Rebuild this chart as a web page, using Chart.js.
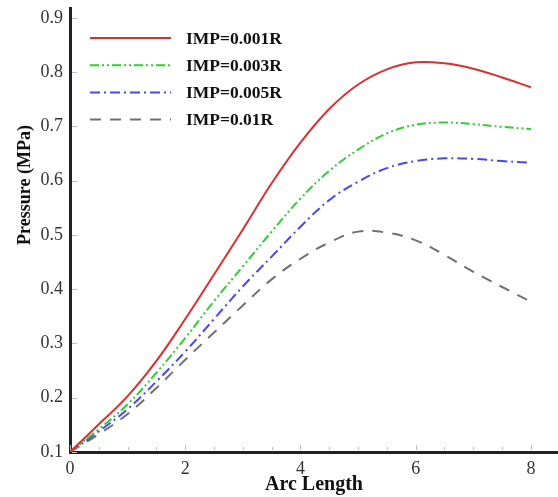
<!DOCTYPE html>
<html>
<head>
<meta charset="utf-8">
<script src="https://cdn.jsdelivr.net/npm/chart.js@4.4.1/dist/chart.umd.min.js"></script>
<style>
  html, body { margin: 0; padding: 0; background: #fff; }
  #wrap { width: 558px; height: 497px; position: relative; }
</style>
</head>
<body>
<div id="wrap"><canvas id="myChart"></canvas></div>
<script>
// arc length samples
var arcLength = [0, 0.5, 1, 1.5, 2, 2.5, 3, 3.5, 4, 4.5, 5, 5.5, 6, 6.5, 7, 7.5, 8];

// pressure (MPa) for each IMP value
var imp001 = [0.1, 0.151, 0.203, 0.268, 0.345, 0.427, 0.51, 0.595, 0.67, 0.732, 0.777, 0.805, 0.818, 0.816, 0.806, 0.79, 0.772];
var imp003 = [0.1, 0.142, 0.188, 0.246, 0.31, 0.378, 0.442, 0.506, 0.567, 0.618, 0.657, 0.687, 0.703, 0.707, 0.704, 0.699, 0.695];
var imp005 = [0.1, 0.138, 0.179, 0.23, 0.285, 0.345, 0.405, 0.46, 0.515, 0.564, 0.598, 0.623, 0.636, 0.641, 0.64, 0.636, 0.633];
var imp01  = [0.1, 0.133, 0.17, 0.218, 0.27, 0.32, 0.37, 0.418, 0.456, 0.486, 0.506, 0.504, 0.49, 0.463, 0.432, 0.404, 0.377];

var seriesNames = ["IMP=0.001R", "IMP=0.003R", "IMP=0.005R", "IMP=0.01R"];
var xTicks = [0, 2, 4, 6, 8];
var yTicks = [0.1, 0.2, 0.3, 0.4, 0.5, 0.6, 0.7, 0.8, 0.9];

var serif = '"Liberation Serif", "Times New Roman", serif';

function pts(ys) {
    return arcLength.map(function (x, i) { return { x: x, y: ys[i] }; });
}

// small inward tick marks like the original figure
var innerTicks = {
    id: 'innerTicks',
    afterDatasetsDraw: function (chart) {
        var ctx = chart.ctx, xs = chart.scales.x, ys = chart.scales.y;
        ctx.save();
        ctx.strokeStyle = '#bbb';
        ctx.lineWidth = 1;
        ctx.beginPath();
        for (var v = 0; v <= xs.max; v += 0.5) {
            var px = Math.round(xs.getPixelForValue(v)) + 0.5;
            ctx.moveTo(px, ys.bottom - 2);
            ctx.lineTo(px, ys.bottom - (v % 2 === 0 ? 7 : 5));
        }
        yTicks.forEach(function (t) {
            var py = Math.round(ys.getPixelForValue(t)) + 0.5;
            ctx.moveTo(xs.left + 2, py);
            ctx.lineTo(xs.left + 7, py);
        });
        ctx.stroke();
        ctx.restore();
    }
};

// legend drawn inside the plot area, plus the y title (sits above centre in the original)
var insideLegend = {
    id: 'insideLegend',
    afterDraw: function (chart) {
        var ctx = chart.ctx;
        ctx.save();
        ctx.font = 'bold 17.5px ' + serif;
        ctx.textBaseline = 'middle';
        ctx.fillStyle = '#111';
        chart.data.datasets.forEach(function (ds, i) {
            var y = 38 + i * 27.2;
            ctx.strokeStyle = ds.borderColor;
            ctx.lineWidth = ds.borderWidth;
            ctx.setLineDash(ds.borderDash || []);
            ctx.beginPath();
            ctx.moveTo(90, y);
            ctx.lineTo(171, y);
            ctx.stroke();
            ctx.fillText(ds.label, 186, y + 1);
        });

        ctx.translate(25, 185);
        ctx.rotate(-Math.PI / 2);
        ctx.textAlign = 'center';
        ctx.font = 'bold 18px ' + serif;
        ctx.fillText('Pressure (MPa)', 0, 0);
        ctx.restore();
    }
};

var ctx = document.getElementById('myChart').getContext('2d');
var myChart = new Chart(ctx, {
    type: 'line',
    data: {
        datasets: [
            { label: seriesNames[0], data: pts(imp001), borderColor: '#d93030', borderWidth: 2, borderDash: [] },
            { label: seriesNames[1], data: pts(imp003), borderColor: '#33cc33', borderWidth: 2, borderDash: [9, 3, 2, 3, 2, 3] },
            { label: seriesNames[2], data: pts(imp005), borderColor: '#4848ee', borderWidth: 2, borderDash: [10, 4, 2, 4] },
            { label: seriesNames[3], data: pts(imp01), borderColor: '#707070', borderWidth: 2, borderDash: [11, 9] }
        ]
    },
    options: {
        responsive: true,
        maintainAspectRatio: false,
        animation: false,
        layout: { padding: { top: 8, right: 0, left: 0, bottom: 0 } },
        elements: {
            point: { radius: 0 },
            line: { tension: 0.4, fill: false }
        },
        plugins: {
            legend: { display: false },
            tooltip: { enabled: false }
        },
        scales: {
            x: {
                type: 'linear',
                min: 0,
                max: 8.47,
                afterBuildTicks: function (s) { s.ticks = xTicks.map(function (v) { return { value: v }; }); },
                afterFit: function (s) { s.height = 45; s.paddingLeft = 0; s.paddingRight = 0; },
                grid: { display: false, drawTicks: false },
                border: { display: true, color: '#222', width: 3 },
                ticks: {
                    padding: 6,
                    color: '#333',
                    font: { family: serif, size: 18 },
                    maxRotation: 0,
                    callback: function (v) { return String(v); }
                },
                title: {
                    display: true,
                    text: 'Arc Length',
                    color: '#111',
                    padding: { top: 3, bottom: 0 },
                    font: { family: serif, size: 20, weight: 'bold' }
                }
            },
            y: {
                type: 'linear',
                min: 0.1,
                max: 0.918,
                afterBuildTicks: function (s) { s.ticks = yTicks.map(function (v) { return { value: v }; }); },
                afterFit: function (s) { s.width = 70; s.paddingTop = 0; s.paddingBottom = 0; },
                grid: { display: false, drawTicks: false },
                border: { display: true, color: '#222', width: 3 },
                ticks: {
                    padding: 7,
                    color: '#333',
                    font: { family: serif, size: 18 },
                    callback: function (v) { return Number(v).toFixed(1); }
                },
                title: { display: false }
            }
        }
    },
    plugins: [innerTicks, insideLegend]
});
</script>
</body>
</html>
